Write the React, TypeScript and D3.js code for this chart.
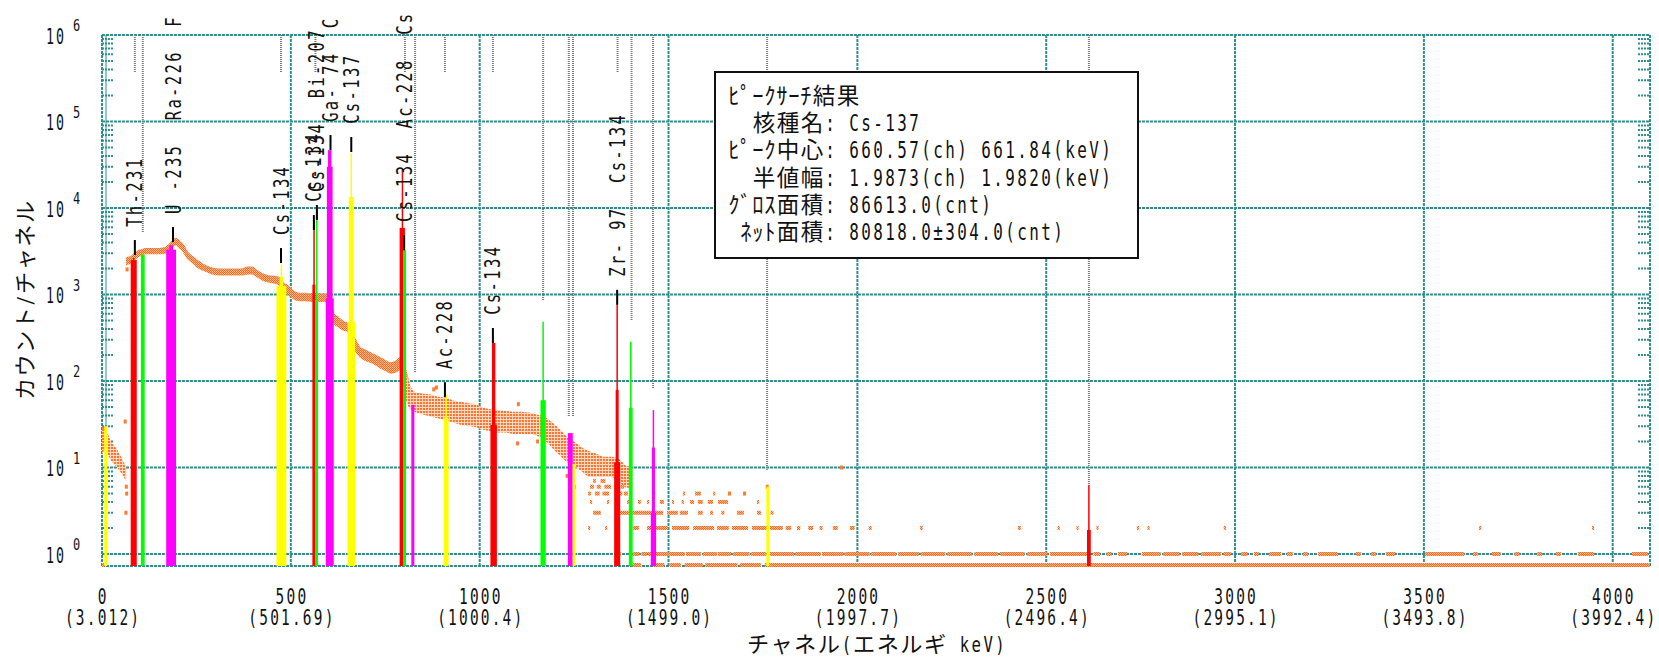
import React from "react";
import * as d3 from "d3";

const W = 1659;
const H = 657;

// ---------- axis data ----------
const xTicks = [0, 500, 1000, 1500, 2000, 2500, 3000, 3500, 4000];
const xTickEnergy = ["(3.012)", "(501.69)", "(1000.4)", "(1499.0)", "(1997.7)", "(2496.4)", "(2995.1)", "(3493.8)", "(3992.4)"];
const yDecades = [0, 1, 2, 3, 4, 5, 6];
const xTitle = "チャネル(エネルギ keV)";
const yTitle = "カウント/チャネル";

// ---------- spectrum continuum (channel, low count, high count) ----------
const lowCh = [0, 8, 16, 24, 32, 40, 48, 56, 64];
const lowLo = [14, 16, 14, 12, 11, 10, 9, 8, 7];
const lowHi = [30, 26, 24, 20, 18, 16, 14, 12, 10];

const bandCh = [66, 76, 92, 104, 114, 130, 145, 160, 170, 196, 205, 215, 225, 235, 245, 255, 265, 278, 292, 310, 330, 350, 370, 385, 398, 408, 418, 430, 445, 458, 470, 480, 492, 500, 512, 525, 540, 554, 575, 590, 600, 613, 625, 640, 650, 670, 680, 692, 705, 720, 735, 750, 765, 780, 790, 800, 808];
const bandLo = [2250, 2350, 2700, 2900, 3000, 3000, 3000, 3000, 3100, 3800, 3500, 3200, 2700, 2450, 2250, 2050, 1950, 1850, 1750, 1700, 1700, 1700, 1700, 1750, 1750, 1650, 1550, 1450, 1400, 1370, 1300, 1150, 1020, 960, 880, 860, 860, 840, 840, 840, 820, 480, 430, 390, 380, 230, 200, 180, 170, 160, 145, 135, 125, 130, 140, 90, 60];
const bandHi = [2650, 2700, 3100, 3250, 3350, 3350, 3350, 3400, 3500, 4400, 4100, 3700, 3100, 2800, 2600, 2400, 2250, 2100, 2000, 1950, 1950, 1950, 1950, 2050, 2050, 1900, 1780, 1680, 1620, 1600, 1550, 1350, 1250, 1150, 1050, 1020, 1020, 1000, 1000, 1000, 980, 600, 540, 480, 460, 300, 250, 230, 215, 200, 185, 170, 160, 170, 185, 150, 110];

// noisier part of the continuum above the Cs-134 796 keV peak
const scatterCh = [808, 815, 830, 850, 870, 890, 910, 930, 950, 970, 990, 1010, 1030, 1050, 1070, 1090, 1110, 1130, 1150, 1170, 1185, 1200, 1215, 1230, 1245, 1260, 1275, 1290, 1310, 1330, 1350, 1370, 1390, 1400];
const scatterLo = [60, 50, 45, 42, 40, 38, 36, 34, 32, 31, 30, 28, 27, 26, 26, 25, 25, 25, 24, 22, 19, 16, 14, 12, 11, 10, 9, 8, 8, 8, 8, 7, 6, 6];
const scatterHi = [110, 85, 72, 70, 68, 64, 62, 58, 56, 54, 52, 48, 46, 45, 44, 43, 43, 42, 40, 38, 34, 30, 26, 22, 20, 18, 16, 15, 14, 13, 13, 12, 10, 10];

// ---------- integer-count rows in the tail (count, first channel, last channel) ----------
const runCount = [
  0, 0, 0, 0, 0, 0, 0, 0,
  1, 1, 1, 1, 1, 1, 1, 1, 1, 1, 1, 1, 1, 1, 1, 1, 1, 1, 1, 1, 1, 1, 1, 1, 1, 1, 1, 1, 1, 1, 1, 1, 1, 1, 1, 1, 1, 1, 1, 1, 1, 1, 1, 1, 1, 1, 1, 1,
  2, 2, 2, 2, 2, 2, 2, 2, 2, 2, 2, 2, 2, 2, 2, 2, 2, 2, 2, 2, 2, 2, 2, 2, 2, 2, 2, 2, 2,
  3, 3, 3, 3, 3, 3, 3, 3, 3, 3, 3,
  4, 4, 4, 4, 4, 4, 4, 4, 4, 4, 4, 4, 4,
  5, 5, 5, 5, 5, 5, 5, 5, 5,
  6, 6, 6, 6,
  7, 7,
];
const runStart = [
  0, 1405, 1459, 1504, 1543, 1597, 1689, 1755,
  1362, 1406, 1428, 1446, 1464, 1499, 1546, 1591, 1630, 1671, 1718, 1768, 1836, 1906, 1966, 2036, 2108, 2168, 2238, 2310, 2378, 2450, 2510, 2625, 2660, 2690, 2753, 2810, 2860, 2910, 2970, 3016, 3050, 3090, 3137, 3180, 3220, 3320, 3360, 3400, 3503, 3630, 3680, 3740, 3800, 3850, 3908, 4051,
  1287, 1332, 1366, 1406, 1443, 1464, 1509, 1565, 1628, 1668, 1721, 1768, 1810, 1840, 1870, 1900, 1935, 1980, 2030, 2166, 2425, 2530, 2580, 2633, 2740, 2768, 2970, 3646, 3945,
  1300, 1366, 1403, 1496, 1530, 1578, 1610, 1640, 1681, 1734, 1770,
  1292, 1337, 1390, 1419, 1443, 1477, 1509, 1535, 1557, 1578, 1604, 1631, 1734,
  1287, 1305, 1325, 1366, 1382, 1459, 1538, 1570, 1618,
  1292, 1310, 1330, 1373,
  1300, 1320,
];
const runEnd = [
  2, 1425, 1486, 1530, 1588, 1680, 1742, 4096,
  1371, 1420, 1440, 1459, 1496, 1540, 1583, 1625, 1663, 1712, 1755, 1830, 1900, 1960, 2030, 2100, 2160, 2230, 2300, 2370, 2440, 2500, 2610, 2640, 2670, 2711, 2800, 2850, 2900, 2960, 2986, 3030, 3060, 3119, 3150, 3190, 3270, 3330, 3370, 3421, 3604, 3640, 3700, 3750, 3810, 3860, 3948, 4090,
  1290, 1335, 1369, 1419, 1451, 1496, 1552, 1618, 1657, 1708, 1761, 1800, 1822, 1846, 1880, 1905, 1945, 1990, 2035, 2170, 2430, 2533, 2583, 2636, 2743, 2771, 2973, 3649, 3948,
  1318, 1393, 1483, 1522, 1549, 1588, 1615, 1645, 1697, 1742, 1775,
  1295, 1340, 1398, 1424, 1446, 1485, 1512, 1538, 1565, 1588, 1615, 1655, 1737,
  1292, 1315, 1340, 1375, 1390, 1462, 1541, 1583, 1621,
  1300, 1318, 1345, 1380,
  1305, 1330,
];

// ---------- isolated points ----------
const dotCh = [3, 60, 62, 63, 64, 65, 877, 884, 1099, 1101, 1152, 1230, 1250, 1660, 1700, 1760, 1957];
const dotCount = [28, 34, 3, 6, 5, 1950, 80, 84, 19, 54, 20, 8, 6, 5, 5, 6, 10];

// ---------- fitted peaks (centre channel, colour, tiers of [width in channels] / [count]) ----------
const peakCh = [10, 84, 108, 183, 475, 561, 568, 603, 660, 795, 801, 823, 911, 1037, 1168, 1240, 1250, 1364, 1400, 1460, 1763, 2613];
const peakColor = ["#ffff00", "#ff0000", "#00ff00", "#ff00ff", "#ffff00", "#ff0000", "#00ff00", "#ff00ff", "#ffff00", "#ff0000", "#00ff00", "#ff00ff", "#ffff00", "#ff0000", "#00ff00", "#ff00ff", "#ffff00", "#ff0000", "#00ff00", "#ff00ff", "#ffff00", "#ff0000"];
const peakWidths = [[8], [16, 4], [10], [26, 10], [26, 10, 4], [8, 3], [8, 3], [21, 15, 9], [20, 13, 4], [14, 3], [8], [8], [13, 5], [17, 9], [14, 4], [13], [8], [16, 8, 4], [10, 4], [14, 8, 4], [8], [10, 4]];
const peakCounts = [[30], [2500, 2640], [2900], [3300, 3700], [1250, 1600, 2200], [1300, 7250], [850, 9500], [900, 30000, 46700], [480, 13400, 43000], [5900, 27500], [3250], [53], [38, 69], [31, 275], [60, 485], [25], [11], [11.5, 79, 760], [49, 285], [3, 17, 46], [6], [1.9, 6.3]];

// ---------- nuclide labels (visible text, stacked names separated by two spaces) ----------
const labelCh = [87, 188, 474, 561, 569, 605, 660, 800, 908, 1035, 1364];
const labelAt = [2860, 4040, 2310, 5570, 7260, 46800, 44400, 3250, 65, 275, 760];
const labelText = ["Th-231", "U -235  Ra-226  F", "Cs-134", "Cs-134", "Cs-134  Bi-207", "Ga- 74  C", "Cs-137", "Cs-134  Ac-228  Cs", "Ac-228", "Cs-134", "Zr- 97  Cs-134"];

// ---------- library marker lines ----------
const shortMarkCh = [87, 474, 565, 802, 908, 1035, 1365];
const longMarkCh = [108, 829, 1168, 1236, 1247, 1402, 1459, 1761, 2613];
const longMarkEnd = [5140, 124, 841, 39, 39, 494, 83, 9.4, 6.3];

// ---------- info box ----------
const infoLines = [
  "ﾋﾟｰｸｻｰﾁ結果",
  "  核種名: Cs-137",
  "ﾋﾟｰｸ中心: 660.57(ch) 661.84(keV)",
  "  半値幅: 1.9873(ch) 1.9820(keV)",
  "ｸﾞﾛｽ面積: 86613.0(cnt)",
  " ﾈｯﾄ面積: 80818.0±304.0(cnt)",
];

// ---------- text helpers (fixed-pitch character cells) ----------
const CELL = 11.8;
function cellsOf(ch: string): number {
  const c = ch.codePointAt(0) || 0;
  if (c >= 0xff61 && c <= 0xff9f) return 1;
  if ((c >= 0x2e80 && c <= 0xa4cf) || (c >= 0xac00 && c <= 0xd7a3) || (c >= 0xf900 && c <= 0xfaff) || (c >= 0xff00 && c <= 0xff60) || (c >= 0xffe0 && c <= 0xffe6)) return 2;
  return 1;
}

type MTProps = {
  x: number;
  y: number;
  text: string;
  size?: number;
  cell?: number;
  anchor?: "start" | "middle" | "end";
  rotate?: number;
  fill?: string;
};

function MonoText({ x, y, text, size = 22, cell = CELL, anchor = "start", rotate = 0, fill = "#111" }: MTProps) {
  const chars = Array.from(text);
  const widths = chars.map((c) => cellsOf(c) * cell);
  const total = d3.sum(widths);
  let acc = anchor === "start" ? 0 : anchor === "middle" ? -total / 2 : -total;
  const items: React.ReactNode[] = [];
  chars.forEach((c, i) => {
    const x0 = acc;
    const w = widths[i];
    acc += w;
    if (c === " ") return;
    const ascii = (c.codePointAt(0) || 0) < 0x2000;
    const inset = ascii ? w * 0.1 : w * 0.03;
    items.push(
      <text
        key={i}
        x={x0 + inset}
        y={0}
        textLength={w - 2 * inset}
        lengthAdjust="spacingAndGlyphs"
        fontSize={size}
        fill={fill}
        fontFamily={ascii ? "'DejaVu Sans Mono', 'Liberation Mono', monospace" : "'Noto Sans CJK JP', sans-serif"}
      >
        {c}
      </text>
    );
  });
  return <g transform={`translate(${x},${y}) rotate(${rotate})`}>{items}</g>;
}

export default function App() {
  const left = 102;
  const right = 1650;
  const top = 35;
  const bottom = 566;
  const x = d3.scaleLinear().domain([0, 4096]).range([left, 1649]);
  const y = d3.scaleLog().domain([0.727, 1e6]).range([bottom, top]);
  const yv = (v: number) => (v <= 0 ? bottom - 1 : y(v));

  const grid = "#2e8f8f";
  const orange = "url(#dots)";
  const orangeSparse = "url(#sparse)";

  const mkArea = (chs: number[], lo: number[], hi: number[]) =>
    d3
      .area<number>()
      .x((i) => x(chs[i]))
      .y0((i) => yv(lo[i]))
      .y1((i) => yv(hi[i]))
      .curve(d3.curveMonotoneX)(d3.range(chs.length)) || "";

  const minor: number[] = [];
  for (let d = 0; d < 6; d++) for (let m = 2; m <= 9; m++) minor.push(m * Math.pow(10, d));

  return (
    <svg width={W} height={H} style={{ position: "absolute", left: 0, top: 0, background: "#fff" }}>
      <defs>
        <pattern id="dots" width={2} height={2} patternUnits="userSpaceOnUse">
          <rect width={2} height={2} fill="#ffb98e" />
          <rect width={1} height={1} fill="#ff6a1f" />
          <rect x={1} y={1} width={1} height={1} fill="#ff6a1f" />
        </pattern>
        <pattern id="sparse" width={3} height={3} patternUnits="userSpaceOnUse">
          <rect width={3} height={3} fill="#ffd9c2" />
          <rect width={2} height={2} fill="#ff7430" />
        </pattern>
        <clipPath id="plotclip">
          <rect x={left} y={top} width={right - left} height={bottom - top + 3} />
        </clipPath>
      </defs>
      <rect width={W} height={H} fill="#fff" />

      {/* grid */}
      <g stroke={grid} strokeWidth={2} strokeDasharray="3 1">
        {yDecades.map((d) => (
          <line key={"h" + d} x1={left} x2={right} y1={y(Math.pow(10, d))} y2={y(Math.pow(10, d))} />
        ))}
        {xTicks.map((t) => (
          <line key={"v" + t} x1={x(t)} x2={x(t)} y1={top} y2={bottom} />
        ))}
        <line x1={left} x2={right} y1={bottom} y2={bottom} />
        <line x1={left} x2={left} y1={top} y2={bottom} />
        <line x1={right} x2={right} y1={top} y2={bottom} />
      </g>
      <line x1={106} x2={106} y1={top} y2={bottom} stroke={grid} strokeWidth={1} />
      <g stroke={grid} strokeWidth={2} strokeDasharray="2 1">
        {minor.map((v, i) => (
          <g key={i}>
            <line x1={left} x2={left + 12} y1={y(v)} y2={y(v)} />
            <line x1={right - 12} x2={right} y1={y(v)} y2={y(v)} />
          </g>
        ))}
      </g>

      {/* library marker lines */}
      <g stroke="#777" strokeWidth={2} strokeDasharray="1 1">
        {shortMarkCh.map((c, i) => (
          <line key={"s" + i} x1={x(c)} x2={x(c)} y1={top} y2={73} />
        ))}
        {longMarkCh.map((c, i) => (
          <line key={"l" + i} x1={x(c)} x2={x(c)} y1={top} y2={y(longMarkEnd[i])} />
        ))}
      </g>

      {/* spectrum */}
      <g clipPath="url(#plotclip)">
        <path d={mkArea(lowCh, lowLo, lowHi)} fill={orangeSparse} />
        <path d={mkArea(bandCh, bandLo, bandHi)} fill={orange} stroke={orange} strokeWidth={2} />
        <path d={mkArea(scatterCh, scatterLo, scatterHi)} fill={orangeSparse} stroke={orangeSparse} strokeWidth={2} />
        {runCount.map((c, i) => {
          const cy = c === 0 ? bottom - 1 : y(c);
          return <rect key={"r" + i} x={x(runStart[i])} width={Math.max(2, x(runEnd[i]) - x(runStart[i]) + 1)} y={cy - 2} height={4} fill={orange} />;
        })}
        {dotCh.map((c, i) => (
          <rect key={"d" + i} x={x(c) - 1} y={yv(dotCount[i]) - 2} width={3} height={4} fill="#ff7a33" />
        ))}

        {/* peaks */}
        {peakCh.map((c, i) => (
          <g key={"p" + i} fill={peakColor[i]}>
            {peakWidths[i].map((w, j) => {
              const x0 = x(c - w / 2);
              const x1 = x(c + w / 2);
              const yt = y(peakCounts[i][j]);
              return <rect key={j} x={x0} width={Math.max(1.5, x1 - x0)} y={yt} height={bottom - yt} />;
            })}
          </g>
        ))}
      </g>

      {/* label ticks and labels */}
      <g stroke="#000" strokeWidth={2}>
        {labelCh.map((c, i) => (
          <line key={"t" + i} x1={x(c)} x2={x(c)} y1={y(labelAt[i])} y2={y(labelAt[i]) - 15} />
        ))}
      </g>
      {labelCh.map((c, i) => (
        <MonoText key={"lb" + i} x={x(c) + 7.5} y={y(labelAt[i]) - 27} text={labelText[i]} rotate={-90} size={21} cell={11.7} />
      ))}

      {/* info box */}
      <rect x={715} y={72} width={423} height={186} fill="#fff" stroke="#111" strokeWidth={2} />
      {infoLines.map((t, i) => (
        <MonoText key={"ib" + i} x={728} y={104 + i * 27.2} text={t} size={23} cell={12} />
      ))}

      {/* y axis labels */}
      {yDecades.map((d) => (
        <g key={"yl" + d}>
          <MonoText x={65} y={y(Math.pow(10, d)) + 8.5} text="10" anchor="end" size={22} cell={10} />
          <MonoText x={72} y={y(Math.pow(10, d)) - 4} text={String(d)} size={15} cell={9} />
        </g>
      ))}

      {/* x axis labels */}
      {xTicks.map((t, i) => (
        <g key={"xl" + t}>
          <MonoText x={x(t)} y={604} text={String(t)} anchor="middle" size={22} cell={10.9} />
          <MonoText x={x(t)} y={625} text={xTickEnergy[i]} anchor="middle" size={22} cell={10.9} />
        </g>
      ))}

      {/* axis titles */}
      <MonoText x={(left + right) / 2} y={652} text={xTitle} anchor="middle" size={22} cell={11.8} />
      <MonoText x={33} y={(top + bottom) / 2} text={yTitle} anchor="middle" size={22} cell={11.8} rotate={-90} />
    </svg>
  );
}
